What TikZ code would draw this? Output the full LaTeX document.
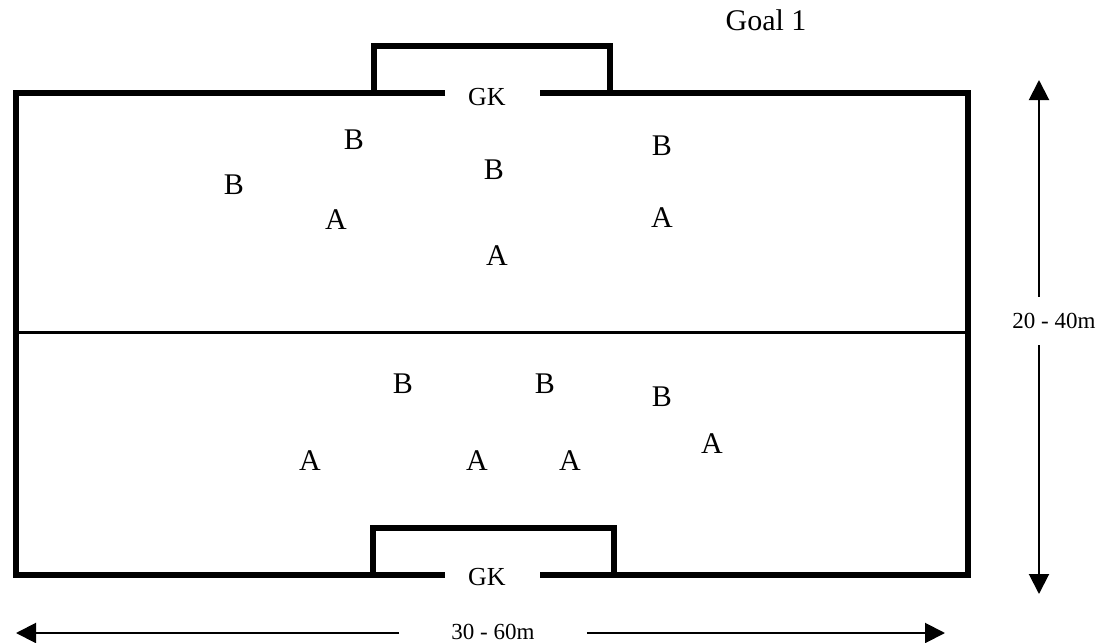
\documentclass[tikz,border=0pt]{standalone}
\usepackage{fontspec}
\setmainfont{Liberation Serif}
\usetikzlibrary{arrows.meta}

\begin{document}
\begin{tikzpicture}[
    x=0.5pt, y=-0.5pt,
    pitch/.style = {line width=3.2pt, line join=miter},
    half/.style = {line width=1.5pt},
    player/.style = {font=\fontsize{15}{15}\selectfont, inner sep=0pt},
    keeper/.style = {font=\fontsize{13}{13}\selectfont, inner sep=2pt},
    dimlabel/.style = {font=\fontsize{11.5}{11.5}\selectfont, inner sep=3pt},
    dimline/.style = {line width=1pt, -{Triangle[length=10pt,width=10pt]}}
]
\useasboundingbox (0,0) rectangle (1100,643);

% --- Pitch outline with the two goal mouths ---
\node[keeper] (gk1) at (487,97) {GK};
\node[keeper] (gk2) at (487,577) {GK};
\draw[pitch] (445,93) -- (16,93) -- (16,575) -- (445,575);
\draw[pitch] (540,575) -- (968,575) -- (968,93) -- (540,93);
\draw[pitch] (374,93) -- (374,46) -- (610,46) -- (610,93);
\draw[pitch] (373,575) -- (373,528) -- (614,528) -- (614,575);
\draw[half] (16,332) -- (968,332);
\node[font=\fontsize{15}{15}\selectfont] (goal) at (766,20) {Goal 1};

% --- Players in the top half ---
\node[player] (b1) at (354,140) {B};
\node[player] (b2) at (234,185) {B};
\node[player] (b3) at (494,170) {B};
\node[player] (b4) at (662,146) {B};
\node[player] (a1) at (336,220) {A};
\node[player] (a2) at (662,218) {A};
\node[player] (a3) at (497,256) {A};

% --- Players in the bottom half ---
\node[player] (b5) at (403,384) {B};
\node[player] (b6) at (545,384) {B};
\node[player] (b7) at (662,397) {B};
\node[player] (a4) at (310,461) {A};
\node[player] (a5) at (477,461) {A};
\node[player] (a6) at (570,461) {A};
\node[player] (a7) at (712,444) {A};

% --- Dimensions ---
\coordinate (wtop) at (1039,80);
\coordinate (wbot) at (1039,594);
\node[dimlabel, inner ysep=8pt] (width) at (1054,321) {20 - 40m};
\draw[dimline] (width.north -| wtop) -- (wtop);
\draw[dimline] (width.south -| wbot) -- (wbot);

\coordinate (lleft) at (16,633);
\coordinate (lright) at (945,633);
\node[dimlabel, inner xsep=26pt] (length) at (493,632) {30 - 60m};
\draw[dimline] (length.west |- lleft) -- (lleft);
\draw[dimline] (length.east |- lright) -- (lright);

\end{tikzpicture}
\end{document}
